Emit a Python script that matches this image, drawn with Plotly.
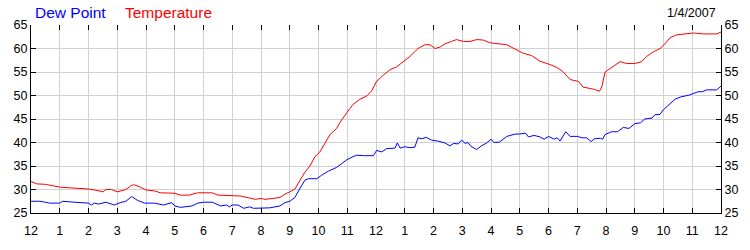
import plotly.graph_objects as go

temp_hours = [0, 0.2, 0.5, 0.8, 1.0, 1.5, 2.0, 2.3, 2.5, 2.6, 2.8, 3.0, 3.3, 3.5, 3.6, 3.8, 4.0, 4.3, 4.5, 5.0,
              5.2, 5.5, 5.8, 6.3, 6.5, 7.0, 7.3, 7.6, 7.8, 8.0, 8.14, 8.66, 8.83, 9.0, 9.18, 9.36, 9.53, 9.7, 9.88,
              10.05, 10.2, 10.4, 10.63, 10.75, 10.98, 11.2, 11.44, 11.68, 11.85, 12.02, 12.25, 12.49, 12.72, 12.95,
              13.18, 13.46, 13.7, 13.88, 14.05, 14.23, 14.4, 14.63, 14.8, 15.04, 15.27, 15.5, 15.73, 15.97, 16.2,
              16.55, 16.83, 17.12, 17.41, 17.7, 18.0, 18.28, 18.5, 18.75, 19.04, 19.2, 19.44, 19.6, 19.77, 19.85,
              19.97, 20.2, 20.49, 20.72, 21.0, 21.24, 21.41, 21.65, 21.88, 22.05, 22.23, 22.46, 22.7, 23.04, 23.39,
              23.85, 24.0]
temp_values = [31.7, 31.2, 31.1, 30.8, 30.5, 30.3, 30.1, 29.8, 29.5, 30.0, 30.0, 29.5, 30.0, 30.9, 31.0, 30.5, 29.9,
               29.7, 29.3, 29.2, 28.8, 28.8, 29.3, 29.3, 28.8, 28.7, 28.6, 28.2, 27.9, 28.1, 27.9, 28.3, 29.0, 29.5,
               30.1, 32.0, 33.7, 35.0, 37.0, 38.0, 39.7, 41.7, 43.0, 44.3, 46.3, 48.1, 49.2, 49.9, 51.0, 53.0, 54.3,
               55.5, 56.1, 57.2, 58.3, 60.0, 60.8, 60.8, 60.0, 60.3, 61.0, 61.5, 61.9, 61.5, 61.5, 61.9, 61.8, 61.2,
               61.0, 60.8, 59.9, 59.0, 58.5, 57.3, 56.7, 56.0, 55.1, 53.4, 53.0, 51.8, 51.5, 51.3, 50.9, 51.8, 55.0,
               55.9, 57.2, 56.8, 56.8, 57.2, 58.3, 59.3, 60.0, 61.0, 62.3, 62.9, 63.1, 63.3, 63.1, 63.1, 63.5]

dew_hours = [0, 0.3, 0.5, 0.65, 1.0, 1.1, 1.5, 2.0, 2.1, 2.2, 2.35, 2.6, 2.9, 3.1, 3.3, 3.5, 3.7, 3.95, 4.3, 4.6,
             4.9, 5.0, 5.2, 5.6, 5.8, 6.0, 6.3, 6.6, 6.8, 6.9, 7.0, 7.2, 7.4, 7.6, 7.74, 8.0, 8.31, 8.66, 8.83, 9.0,
             9.18, 9.36, 9.53, 9.65, 9.94, 10.1, 10.34, 10.63, 10.75, 10.98, 11.2, 11.33, 11.56, 11.91, 12.02, 12.2,
             12.37, 12.66, 12.74, 12.84, 13.0, 13.18, 13.35, 13.46, 13.6, 13.75, 13.93, 14.16, 14.4, 14.57, 14.7,
             14.86, 14.98, 15.1, 15.2, 15.3, 15.5, 15.67, 15.85, 16.0, 16.1, 16.3, 16.55, 16.84, 17.0, 17.2, 17.3,
             17.5, 17.7, 17.85, 18.0, 18.2, 18.3, 18.4, 18.6, 18.75, 19.0, 19.17, 19.33, 19.48, 19.6, 19.8, 19.88,
             19.97, 20.2, 20.4, 20.6, 20.8, 21.0, 21.2, 21.35, 21.6, 21.7, 21.88, 22.0, 22.2, 22.4, 22.6, 22.9,
             23.2, 23.35, 23.5, 23.85, 24.0]
dew_values = [27.5, 27.5, 27.3, 27.1, 27.1, 27.5, 27.3, 27.1, 26.7, 27.1, 26.9, 27.3, 26.7, 27.2, 27.5, 28.5, 27.7,
              27.1, 27.1, 26.7, 27.2, 26.5, 26.2, 26.5, 27.1, 27.3, 27.3, 26.5, 26.7, 26.3, 26.7, 26.7, 26.0, 26.3,
              26.0, 26.0, 26.1, 26.5, 27.2, 27.5, 28.3, 30.3, 32.0, 32.3, 32.3, 33.0, 33.9, 34.7, 35.3, 36.3, 37.0,
              37.3, 37.2, 37.2, 38.3, 38.0, 38.7, 38.8, 39.9, 38.8, 39.1, 38.9, 39.0, 41.0, 40.8, 41.1, 40.5, 40.3,
              39.9, 39.3, 39.8, 39.7, 40.5, 39.8, 40.0, 39.2, 38.5, 39.3, 39.9, 40.7, 40.0, 40.1, 41.3, 41.8, 41.8,
              42.0, 41.2, 41.5, 41.2, 40.7, 41.3, 40.7, 41.0, 40.3, 42.3, 41.3, 41.3, 41.0, 41.0, 40.2, 40.8, 40.9,
              40.7, 41.7, 42.3, 42.3, 43.2, 43.0, 44.0, 44.2, 45.0, 45.2, 45.9, 46.0, 47.0, 48.0, 49.2, 49.7, 50.1,
              50.8, 50.8, 51.2, 51.2, 52.0]

x_tick_vals = list(range(0, 25))
x_tick_text = ["12", "1", "2", "3", "4", "5", "6", "7", "8", "9", "10", "11",
               "12", "1", "2", "3", "4", "5", "6", "7", "8", "9", "10", "11", "12"]
y_tick_vals = [25, 30, 35, 40, 45, 50, 55, 60, 65]

date_label = "1/4/2007"

FONT = "Liberation Sans, Arial, sans-serif"
GRID = "#d0d0d0"

fig = go.Figure()
fig.add_trace(go.Scatter(x=dew_hours, y=dew_values, mode="lines",
                         line=dict(color="#0000ff", width=1), name="Dew Point"))
fig.add_trace(go.Scatter(x=temp_hours, y=temp_values, mode="lines",
                         line=dict(color="#ff0000", width=1), name="Temperature"))
# invisible trace to activate secondary axes
fig.add_trace(go.Scatter(x=[0], y=[25], xaxis="x2", yaxis="y2", mode="markers",
                         marker=dict(opacity=0), showlegend=False, hoverinfo="skip"))

fig.update_layout(
    width=750, height=250,
    margin=dict(l=31, r=29, t=25, b=25),
    paper_bgcolor="white", plot_bgcolor="white",
    showlegend=False,
    font=dict(family=FONT, size=12.5, color="black"),
    xaxis=dict(range=[0, 24], tickmode="array", tickvals=x_tick_vals, ticktext=x_tick_text,
               showgrid=True, gridcolor=GRID, gridwidth=1,
               showline=True, linecolor="black", linewidth=1,
               ticks="inside", ticklen=5, tickcolor="black", ticklabelstandoff=6,
               zeroline=False, fixedrange=True),
    xaxis2=dict(range=[0, 24], overlaying="x", side="top", tickmode="array", tickvals=x_tick_vals,
                showticklabels=False, showgrid=False, showline=False,
                ticks="inside", ticklen=5, tickcolor="black", zeroline=False),
    yaxis=dict(range=[25, 65], tickmode="array", tickvals=y_tick_vals,
               showgrid=True, gridcolor=GRID, gridwidth=1,
               showline=True, linecolor="black", linewidth=1,
               ticks="inside", ticklen=5, tickcolor="black", zeroline=False),
    yaxis2=dict(range=[25, 65], overlaying="y", side="right", tickmode="array", tickvals=y_tick_vals,
                showgrid=False, showline=True, linecolor="black", linewidth=1,
                ticks="inside", ticklen=5, tickcolor="black", zeroline=False),
)

fig.add_annotation(x=(33 - 31) / 690, y=(225 - 12) / 200, xref="paper", yref="paper",
                   text="Dew Point", showarrow=False, xanchor="left", yanchor="middle",
                   font=dict(family=FONT, size=15.5, color="#0000ff"))
fig.add_annotation(x=(123 - 31) / 690, y=(225 - 12) / 200, xref="paper", yref="paper",
                   text="Temperature", showarrow=False, xanchor="left", yanchor="middle",
                   font=dict(family=FONT, size=15.5, color="#ff0000"))
fig.add_annotation(x=(718 - 31) / 690, y=(225 - 12) / 200, xref="paper", yref="paper",
                   text=date_label, showarrow=False, xanchor="right", yanchor="middle",
                   font=dict(family=FONT, size=12.5, color="black"))

fig.write_html("out.html")
